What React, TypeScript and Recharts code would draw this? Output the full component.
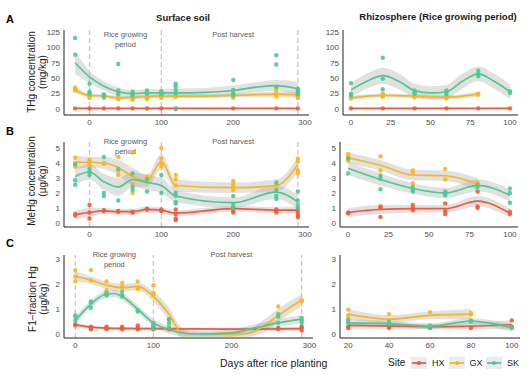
import { ComposedChart, XAxis, YAxis, Scatter, Line, Area, ReferenceLine } from "recharts"

const HX = "#EF5B3B"
const GX = "#F8B51E"
const SK = "#4CC992"
const FONT = "'Liberation Sans', Arial, sans-serif"

// observations: [day, value]
// A. THg, surface soil (mg/kg)
const thgSoilHX = [[-20, 1], [0, 1], [20, 1], [40, 1], [60, 1], [80, 1], [100, 1], [120, 1], [200, 1], [260, 1], [290, 1]]
const thgSoilGX = [[-20, 35], [-20, 32], [-20, 30], [0, 25], [0, 22], [0, 20], [0, 18], [20, 22], [20, 20], [20, 18], [40, 22], [40, 18], [40, 16], [60, 20], [60, 17], [60, 15], [80, 22], [80, 18], [80, 16], [100, 22], [100, 20], [100, 18], [120, 25], [120, 22], [120, 20], [200, 24], [200, 20], [200, 18], [260, 33], [260, 28], [260, 24], [260, 20], [290, 28], [290, 22], [290, 20], [290, 18]]
const thgSoilSK = [[-20, 115], [-20, 88], [0, 41], [0, 28], [0, 25], [20, 24], [20, 20], [40, 73], [40, 30], [40, 25], [60, 28], [60, 25], [60, 22], [80, 30], [80, 27], [80, 25], [100, 29], [100, 27], [100, 24], [120, 41], [120, 37], [120, 31], [120, 26], [120, 0], [200, 47], [200, 31], [200, 25], [200, 22], [260, 87], [260, 72], [260, 36], [290, 33], [290, 30], [290, 27], [290, 24]]
// A. THg, rhizosphere
const thgRhizHX = [[0, 1], [20, 1], [40, 1], [60, 1], [80, 1], [100, 1]]
const thgRhizGX = [[0, 20], [0, 17], [20, 25], [20, 22], [20, 20], [40, 22], [40, 20], [40, 19], [60, 20], [60, 18], [60, 17], [80, 25], [80, 23]]
const thgRhizSK = [[0, 42], [0, 25], [0, 22], [20, 83], [20, 49], [20, 32], [40, 30], [40, 27], [40, 25], [60, 30], [60, 27], [60, 24], [80, 62], [80, 57], [80, 53], [100, 29], [100, 26]]
// B. MeHg, surface soil (µg/kg)
const mehgSoilHX = [[-20, 0.6], [-20, 0.5], [0, 1.2], [0, 0.7], [0, 0.3], [20, 0.8], [20, 0.85], [40, 0.75], [40, 0.8], [60, 0.75], [60, 0.7], [80, 0.9], [80, 0.95], [100, 0.9], [100, 0.8], [120, 0.9], [120, 0.6], [120, 0.3], [120, 0.2], [200, 1.0], [200, 0.8], [200, 0.7], [260, 0.9], [260, 0.8], [260, 0.7], [290, 0.9], [290, 0.7], [290, 0.5], [290, 0.4]]
const mehgSoilGX = [[-20, 4.35], [-20, 4.0], [-20, 3.75], [0, 4.2], [0, 4.1], [0, 3.9], [20, 4.0], [20, 3.95], [40, 4.4], [40, 3.5], [40, 3.2], [60, 4.7], [60, 2.6], [60, 2.0], [80, 3.1], [80, 3.0], [100, 5.0], [100, 4.3], [100, 4.0], [100, 3.8], [120, 3.2], [120, 2.9], [120, 2.5], [200, 2.8], [200, 2.6], [200, 2.4], [200, 2.2], [260, 2.6], [260, 2.5], [290, 4.3], [290, 4.1], [290, 3.5], [290, 3.3]]
const mehgSoilSK = [[-20, 3.9], [-20, 2.85], [-20, 2.55], [0, 3.6], [0, 3.4], [0, 3.2], [20, 4.4], [20, 2.0], [20, 1.8], [40, 3.6], [40, 1.5], [60, 3.3], [60, 2.4], [60, 2.2], [80, 2.9], [80, 2.1], [100, 3.2], [100, 2.0], [120, 2.0], [120, 1.8], [120, 1.4], [120, 1.3], [200, 1.8], [200, 1.2], [200, 1.0], [260, 2.7], [260, 2.2], [260, 1.8], [260, 1.6], [290, 2.1], [290, 1.5], [290, 1.2], [290, 1.0]]
// B. MeHg, rhizosphere
const mehgRhizHX = [[0, 0.7], [0, 0.65], [20, 1.1], [20, 1.0], [20, 0.4], [40, 1.2], [40, 1.0], [40, 0.85], [60, 1.3], [60, 0.8], [60, 0.6], [80, 2.1], [80, 1.1], [80, 1.0], [100, 0.75], [100, 0.6]]
const mehgRhizGX = [[0, 4.6], [0, 4.4], [0, 4.15], [20, 4.45], [20, 3.5], [40, 3.5], [40, 3.4], [40, 2.65], [60, 3.6], [60, 2.9], [80, 2.7], [80, 2.6]]
const mehgRhizSK = [[0, 4.3], [0, 3.3], [20, 3.15], [20, 2.95], [20, 2.25], [40, 2.4], [40, 2.2], [40, 2.1], [60, 2.1], [60, 1.95], [60, 1.85], [80, 2.55], [80, 2.4], [100, 2.3], [100, 2.0], [100, 1.35]]
// C. F1-fraction Hg, surface soil (µg/kg)
const f1SoilHX = [[0, 0.4], [0, 0.35], [20, 0.3], [20, 0.25], [20, 0.2], [40, 0.3], [40, 0.25], [40, 0.2], [60, 0.3], [60, 0.25], [60, 0.2], [80, 0.35], [80, 0.25], [80, 0.2], [100, 0.3], [100, 0.2], [120, 0.25], [120, 0.2], [260, 0.25], [260, 0.2], [290, 0.3], [290, 0.25], [290, 0.15]]
const f1SoilGX = [[0, 2.55], [0, 2.3], [0, 2.1], [20, 2.55], [20, 2.15], [40, 2.1], [40, 1.75], [60, 2.05], [60, 1.9], [80, 2.1], [80, 1.85], [80, 1.8], [100, 1.95], [100, 1.65], [100, 1.55], [120, 0.6], [120, 0.35], [260, 1.1], [260, 0.7], [290, 1.35], [290, 1.3]]
const f1SoilSK = [[0, 0.75], [0, 0.7], [0, 0.55], [20, 1.3], [20, 1.25], [20, 1.05], [40, 1.65], [40, 1.6], [40, 1.55], [60, 1.7], [60, 1.55], [60, 1.5], [80, 0.95], [80, 0.9], [100, 0.45], [100, 0.4], [100, 0.3], [100, 0.2], [120, 0.6], [120, 0.45], [120, 0.25], [260, 0.8], [260, 0.7], [260, 0.45], [290, 0.65], [290, 0.55], [290, 0.45]]
// C. F1-fraction Hg, rhizosphere
const f1RhizHX = [[20, 0.3], [20, 0.25], [40, 0.3], [40, 0.25], [60, 0.25], [80, 0.25], [100, 0.55], [100, 0.3]]
const f1RhizGX = [[20, 0.98], [20, 0.75], [40, 0.8], [60, 0.88], [80, 0.85], [80, 0.78]]
const f1RhizSK = [[20, 0.6], [20, 0.5], [20, 0.45], [40, 0.5], [40, 0.4], [60, 0.35], [60, 0.3], [80, 0.55], [80, 0.5], [100, 0.3], [100, 0.25]]

// smoothed fits: [day, fit, lower, upper]
const thgSoilHXFit = [[-20, 1, 0, 2], [0, 1, 0, 2], [100, 1, 0, 2], [200, 1, 0, 2], [290, 1, 0, 2]]
const thgSoilGXFit = [[-20, 31, 26, 36], [0, 22, 19, 25], [20, 21, 18, 24], [40, 18, 15, 21], [60, 19, 16, 22], [80, 20, 17, 23], [100, 21, 18, 24], [120, 21, 18, 24], [160, 21, 18, 24], [200, 22, 19, 25], [260, 24, 20, 28], [290, 23, 18, 28]]
const thgSoilSKFit = [[-20, 75, 57, 94], [0, 52, 42, 62], [20, 37, 30, 45], [40, 28, 21, 35], [60, 25, 19, 31], [80, 26, 20, 32], [100, 26, 20, 32], [120, 26, 19, 33], [160, 27, 20, 34], [200, 30, 22, 38], [230, 35, 27, 43], [260, 38, 29, 47], [290, 33, 22, 44]]
const thgRhizHXFit = [[0, 1, 0, 2], [50, 1, 0, 2], [100, 1, 0, 2]]
const thgRhizGXFit = [[0, 18, 15, 21], [20, 22, 19, 25], [40, 21, 18, 24], [60, 19, 16, 22], [80, 24, 20, 28]]
const thgRhizSKFit = [[0, 31, 20, 42], [10, 45, 33, 57], [20, 54, 41, 67], [30, 45, 32, 58], [40, 30, 19, 41], [50, 26, 15, 37], [60, 28, 17, 39], [70, 45, 33, 57], [80, 57, 45, 69], [90, 45, 33, 57], [100, 28, 16, 40]]
const mehgSoilHXFit = [[-20, 0.55, 0.3, 0.8], [0, 0.7, 0.4, 1.0], [20, 0.8, 0.6, 1.0], [40, 0.75, 0.55, 0.95], [60, 0.75, 0.55, 0.95], [80, 0.9, 0.7, 1.1], [100, 0.85, 0.65, 1.05], [120, 0.65, 0.45, 0.85], [200, 0.95, 0.75, 1.15], [260, 0.85, 0.65, 1.05], [290, 0.85, 0.6, 1.1]]
const mehgSoilGXFit = [[-20, 4.05, 3.6, 4.5], [0, 4.05, 3.7, 4.4], [20, 4.0, 3.6, 4.4], [40, 3.7, 3.2, 4.2], [60, 3.1, 2.5, 3.7], [80, 2.8, 2.4, 3.2], [100, 4.1, 3.6, 4.6], [120, 2.5, 2.1, 2.9], [200, 2.35, 2.0, 2.7], [260, 2.5, 2.1, 2.9], [290, 3.9, 3.4, 4.4]]
const mehgSoilSKFit = [[-20, 3.1, 2.5, 3.7], [0, 3.4, 2.9, 3.9], [20, 2.75, 2.2, 3.3], [40, 2.4, 1.8, 3.0], [60, 2.9, 2.4, 3.4], [80, 2.7, 2.2, 3.2], [100, 2.5, 2.0, 3.0], [120, 1.8, 1.4, 2.2], [200, 1.35, 1.0, 1.7], [260, 2.05, 1.6, 2.5], [290, 1.4, 0.9, 1.9]]
const mehgRhizHXFit = [[0, 0.7, 0.4, 1.0], [20, 0.9, 0.6, 1.2], [40, 0.95, 0.7, 1.2], [60, 0.95, 0.7, 1.2], [80, 1.45, 1.1, 1.8], [100, 0.65, 0.35, 0.95]]
const mehgRhizGXFit = [[0, 4.35, 4.0, 4.7], [20, 3.85, 3.5, 4.2], [40, 3.2, 2.85, 3.55], [60, 3.15, 2.8, 3.5], [80, 2.6, 2.2, 3.0]]
const mehgRhizSKFit = [[0, 3.65, 3.2, 4.1], [20, 2.9, 2.5, 3.3], [40, 2.3, 1.95, 2.65], [60, 2.0, 1.65, 2.35], [80, 2.5, 2.1, 2.9], [100, 1.85, 1.45, 2.25]]
const f1SoilHXFit = [[0, 0.38, 0.3, 0.46], [20, 0.28, 0.22, 0.34], [40, 0.24, 0.18, 0.3], [60, 0.23, 0.17, 0.29], [100, 0.22, 0.16, 0.28], [200, 0.2, 0.14, 0.26], [290, 0.22, 0.14, 0.3]]
const f1SoilGXFit = [[0, 2.3, 2.1, 2.5], [20, 2.15, 2.0, 2.3], [40, 1.95, 1.8, 2.1], [60, 1.85, 1.7, 2.0], [80, 1.9, 1.75, 2.05], [100, 1.5, 1.3, 1.7], [120, 0.8, 0.55, 1.05], [135, 0.1, -0.1, 0.3], [150, 0.0, -0.1, 0.1], [190, 0.0, -0.1, 0.1], [220, 0.02, -0.1, 0.15], [240, 0.3, 0.05, 0.55], [260, 0.75, 0.5, 1.0], [290, 1.35, 1.1, 1.6]]
const f1SoilSKFit = [[0, 0.55, 0.4, 0.7], [20, 1.2, 1.05, 1.35], [40, 1.6, 1.45, 1.75], [50, 1.62, 1.47, 1.77], [60, 1.5, 1.35, 1.65], [80, 1.0, 0.85, 1.15], [100, 0.45, 0.3, 0.6], [120, 0.18, 0.03, 0.33], [140, 0.04, -0.1, 0.18], [160, 0.0, -0.1, 0.12], [200, 0.05, -0.1, 0.2], [230, 0.25, 0.1, 0.4], [260, 0.45, 0.3, 0.6], [290, 0.6, 0.45, 0.75]]
const f1RhizHXFit = [[20, 0.35, 0.22, 0.48], [40, 0.33, 0.22, 0.44], [60, 0.3, 0.2, 0.4], [80, 0.32, 0.2, 0.44], [100, 0.38, 0.2, 0.56]]
const f1RhizGXFit = [[20, 0.8, 0.6, 1.0], [40, 0.6, 0.45, 0.75], [60, 0.75, 0.6, 0.9], [80, 0.8, 0.6, 1.0]]
const f1RhizSKFit = [[20, 0.45, 0.3, 0.6], [40, 0.42, 0.3, 0.54], [60, 0.32, 0.2, 0.44], [80, 0.52, 0.4, 0.64], [100, 0.25, 0.1, 0.4]]

const sites = ["HX", "GX", "SK"]
const siteColors = [HX, GX, SK]
const soilDays = [0, 100, 200, 300]
const rhizDays = [0, 25, 50, 75, 100]
const rhizDaysC = [20, 40, 60, 80, 100]
const phaseLines = [0, 100, 290]
const thgTicks = [0, 25, 50, 75, 100, 125]
const mehgTicks = [0, 1, 2, 3, 4, 5]
const f1Ticks = [0, 1, 2, 3]

const toObs = (a: number[][]) => a.map(([x, y]) => ({ x, y }))
const toFit = (a: number[][]) => a.map(([x, f, lo, hi]) => ({ x, fit: f, band: [lo, hi] }))

function Anno({ viewBox, lines, dy }: any) {
  if (!viewBox) return null
  const x = viewBox.x
  const y = viewBox.y + dy
  return (
    <text x={x} y={y} textAnchor="middle" fontSize={7.5} fill="#595959" fontFamily={FONT}>
      {lines.map((l: string, i: number) => (
        <tspan key={i} x={x} dy={i === 0 ? 0 : 9.5}>{l}</tspan>
      ))}
    </text>
  )
}

type PanelProps = {
  left: number
  top: number
  width: number
  height: number
  xDomain: number[]
  yDomain: number[]
  xTicks: number[]
  yTicks: number[]
  obs: number[][][]
  fits: number[][][]
  soil?: boolean
  annoDy?: number
}

function Panel({ left, top, width, height, xDomain, yDomain, xTicks, yTicks, obs, fits, soil, annoDy = 0 }: PanelProps) {
  const yw = 30
  const xh = 16
  const mt = 8
  const mr = 6
  const tick = { fontSize: 8, fill: "#4d4d4d", fontFamily: FONT }
  return (
    <div style={{ position: "absolute", left: left - yw, top: top - mt }}>
      <ComposedChart width={yw + width + mr} height={mt + height + xh} margin={{ top: mt, right: mr, left: 0, bottom: 0 }}>
        <XAxis type="number" dataKey="x" domain={xDomain} ticks={xTicks} allowDataOverflow
          tickSize={0} tickMargin={4} tick={tick} axisLine={{ stroke: "#222", strokeWidth: 1 }} height={xh} />
        <YAxis type="number" dataKey="y" domain={yDomain} ticks={yTicks} allowDataOverflow
          tickSize={0} tickMargin={4} tick={tick} axisLine={{ stroke: "#222", strokeWidth: 1 }} width={yw} />
        {soil && phaseLines.map((d) => (
          <ReferenceLine key={"v" + d} x={d} stroke="#c8c8c8" strokeWidth={1.3} strokeDasharray="5 3" />
        ))}
        {soil && (
          <ReferenceLine x={50} stroke="none" label={<Anno lines={["Rice growing", "period"]} dy={annoDy} />} />
        )}
        {soil && (
          <ReferenceLine x={200} stroke="none" label={<Anno lines={["Post harvest"]} dy={annoDy} />} />
        )}
        {obs.map((o, i) => (
          <Scatter key={"p" + i} data={toObs(o)} isAnimationActive={false}
            shape={(p: any) => <circle cx={p.cx} cy={p.cy} r={2.2} fill={siteColors[i]} fillOpacity={0.9} />} />
        ))}
        {fits.map((f, i) => (
          <Area key={"b" + i} data={toFit(f)} dataKey="band" type="monotone" stroke="none"
            fill="#9a9a9a" fillOpacity={0.3} isAnimationActive={false} />
        ))}
        {fits.map((f, i) => (
          <Line key={"l" + i} data={toFit(f)} dataKey="fit" type="monotone" stroke={siteColors[i]}
            strokeWidth={1.7} dot={false} isAnimationActive={false} />
        ))}
      </ComposedChart>
    </div>
  )
}

function YTitle({ cx, cy, lines }: { cx: number; cy: number; lines: string[] }) {
  return (
    <div style={{
      position: "absolute", left: cx, top: cy, transform: "translate(-50%, -50%) rotate(-90deg)",
      whiteSpace: "nowrap", textAlign: "center", fontSize: 10, lineHeight: "11px", color: "#1a1a1a", fontFamily: FONT,
    }}>
      {lines.map((l) => <div key={l}>{l}</div>)}
    </div>
  )
}

const abs = (left: number, top: number, extra: any = {}) => ({ position: "absolute" as const, left, top, fontFamily: FONT, whiteSpace: "nowrap" as const, ...extra })

export default function App() {
  return (
    <div style={{ position: "absolute", left: 0, top: 0, width: 531, height: 381, background: "#fff", overflow: "hidden" }}>
      <div style={abs(6, 13, { fontSize: 11, fontWeight: "bold" })}>A</div>
      <div style={abs(6, 125, { fontSize: 11, fontWeight: "bold" })}>B</div>
      <div style={abs(6, 237, { fontSize: 11, fontWeight: "bold" })}>C</div>

      <div style={abs(183, 12, { fontSize: 9.5, fontWeight: "bold", transform: "translateX(-50%)", color: "#1a1a1a" })}>Surface soil</div>
      <div style={abs(438, 11, { fontSize: 9.5, fontWeight: "bold", transform: "translateX(-50%)", color: "#1a1a1a" })}>Rhizosphere (Rice growing period)</div>

      <YTitle cx={36.5} cy={72} lines={["THg concentration", "(mg/kg)"]} />
      <YTitle cx={36.5} cy={181} lines={["MeHg concentration", "(μg/kg)"]} />
      <YTitle cx={37.5} cy={299} lines={["F1−fraction Hg", "(μg/kg)"]} />

      <Panel left={64} top={30} width={245} height={85} xDomain={[-35.5, 305.5]} yDomain={[-9.7, 128]}
        xTicks={soilDays} yTicks={thgTicks} soil annoDy={7}
        obs={[thgSoilHX, thgSoilGX, thgSoilSK]} fits={[thgSoilHXFit, thgSoilGXFit, thgSoilSKFit]} />
      <Panel left={343} top={30} width={175} height={85} xDomain={[-5, 105]} yDomain={[-9.7, 128]}
        xTicks={rhizDays} yTicks={thgTicks}
        obs={[thgRhizHX, thgRhizGX, thgRhizSK]} fits={[thgRhizHXFit, thgRhizGXFit, thgRhizSKFit]} />

      <Panel left={64} top={142} width={245} height={85} xDomain={[-35.5, 305.5]} yDomain={[-0.27, 5.4]}
        xTicks={soilDays} yTicks={mehgTicks} soil annoDy={2}
        obs={[mehgSoilHX, mehgSoilGX, mehgSoilSK]} fits={[mehgSoilHXFit, mehgSoilGXFit, mehgSoilSKFit]} />
      <Panel left={340} top={142} width={178} height={85} xDomain={[-5, 105]} yDomain={[-0.27, 5.4]}
        xTicks={rhizDays} yTicks={mehgTicks}
        obs={[mehgRhizHX, mehgRhizGX, mehgRhizSK]} fits={[mehgRhizHXFit, mehgRhizGXFit, mehgRhizSKFit]} />

      <Panel left={64} top={255} width={249} height={83} xDomain={[-14.5, 304.5]} yDomain={[-0.15, 3.15]}
        xTicks={soilDays} yTicks={f1Ticks} soil annoDy={2}
        obs={[f1SoilHX, f1SoilGX, f1SoilSK]} fits={[f1SoilHXFit, f1SoilGXFit, f1SoilSKFit]} />
      <Panel left={340} top={255} width={180} height={83} xDomain={[16, 104]} yDomain={[-0.15, 3.15]}
        xTicks={rhizDaysC} yTicks={f1Ticks}
        obs={[f1RhizHX, f1RhizGX, f1RhizSK]} fits={[f1RhizHXFit, f1RhizGXFit, f1RhizSKFit]} />

      <div style={abs(220, 357, { fontSize: 10.5, color: "#1a1a1a" })}>Days after rice planting</div>

      <div style={abs(388, 357, { fontSize: 10, color: "#1a1a1a" })}>Site</div>
      {sites.map((s, i) => (
        <div key={s} style={abs(411 + i * 37.5, 357, { display: "flex", alignItems: "center", fontSize: 9, color: "#1a1a1a" })}>
          <svg width={16} height={12} style={{ background: "#ebebeb", display: "block" }}>
            <line x1={1} y1={6} x2={15} y2={6} stroke={siteColors[i]} strokeWidth={1.8} />
            <circle cx={8} cy={6} r={2} fill={siteColors[i]} />
          </svg>
          <span style={{ marginLeft: 5 }}>{s}</span>
        </div>
      ))}
    </div>
  )
}
